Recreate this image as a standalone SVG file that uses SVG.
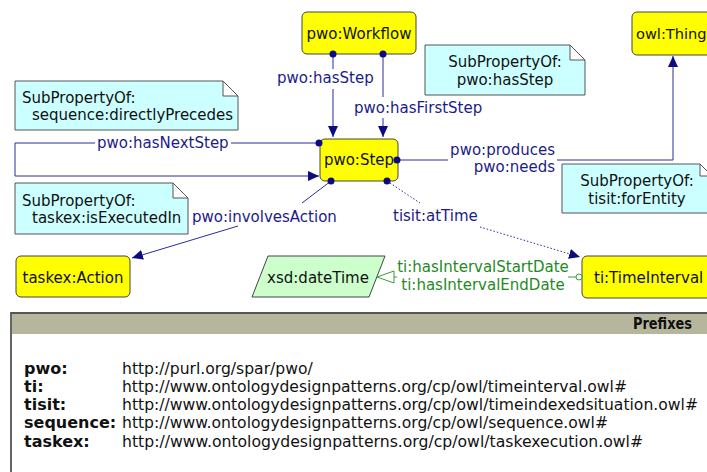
<svg xmlns="http://www.w3.org/2000/svg" width="707" height="472" viewBox="0 0 707 472">
<style>
text{font-family:"DejaVu Sans","Liberation Sans",sans-serif;font-size:15px}
.node rect{fill:#ffff00;stroke:#444;stroke-width:1}
.node text{fill:#111;text-anchor:middle}
.note path{fill:#ccffff;stroke:#555;stroke-width:1}
.note text{fill:#111}
.e{stroke:#2c2c9c;stroke-width:1;fill:none}
.dot{fill:#0c0c80}
.lbl{fill:#1c1c88}
.g{stroke:#3a9a3a;stroke-width:1;fill:none}
.glbl{fill:#1f8a1f;text-anchor:middle}
.pk{font-weight:bold;font-size:16px;fill:#111}
.pu{font-size:15.6px;fill:#111}
</style>
<defs>
<marker id="arr" markerUnits="userSpaceOnUse" markerWidth="12" markerHeight="10" refX="11" refY="5" orient="auto">
<path d="M0,0 L11,5 L0,10 z" fill="#0c0c80"/>
</marker>
</defs>

<g id="workflow" class="node"><rect x="302" y="12" width="114" height="42" rx="5"/><text x="359" y="39">pwo:Workflow</text></g>
<g id="thing" class="node"><rect x="632" y="12" width="90" height="43" rx="5"/><text x="636" y="39" style="text-anchor:start;font-size:14.6px">owl:Thing</text></g>
<g id="step" class="node"><rect x="320" y="139" width="78" height="42" rx="5"/><text x="359" y="165">pwo:Step</text></g>
<g id="action" class="node"><rect x="16" y="256" width="114" height="41" rx="5"/><text x="73" y="283">taskex:Action</text></g>
<g id="timeinterval" class="node"><rect x="582" y="256" width="134" height="42" rx="5"/><text x="594" y="283" style="text-anchor:start">ti:TimeInterval</text></g>
<g id="datetime"><polygon points="268,256 385,256 369,297 252,297" fill="#ccffcc" stroke="#444"/><text x="318" y="283" fill="#111" text-anchor="middle">xsd:dateTime</text></g>

<g id="note1" class="note"><path d="M15,81 H223 L238,96 V130 H15 Z M223,81 V96 H238"/><text x="22" y="103">SubPropertyOf:</text><text x="32" y="120">sequence:directlyPrecedes</text></g>
<g id="note2" class="note"><path d="M15,183 H173 L188,198 V234 H15 Z M173,183 V198 H188"/><text x="22" y="206">SubPropertyOf:</text><text x="32" y="223">taskex:isExecutedIn</text></g>
<g id="note3" class="note"><path d="M425,45 H570 L585,60 V95 H425 Z M570,45 V60 H585"/><text x="505" y="67" text-anchor="middle">SubPropertyOf:</text><text x="505" y="85" text-anchor="middle">pwo:hasStep</text></g>
<g id="note4" class="note"><path d="M562,164 H700 L712,176 V213 H562 Z M700,164 V176 H712"/><text x="637" y="186" text-anchor="middle">SubPropertyOf:</text><text x="637" y="204" text-anchor="middle">tisit:forEntity</text></g>

<g id="connectors">
<path class="e" d="M333,54 V69 M333,89 V137" marker-end="url(#arr)"/>
<circle class="dot" cx="333" cy="54" r="3.5"/>
<text class="lbl" x="277" y="83">pwo:hasStep</text>
<path class="e" d="M383,54 V97 M383,118 V137" marker-end="url(#arr)"/>
<circle class="dot" cx="383" cy="54" r="3.5"/>
<text class="lbl" x="354" y="113">pwo:hasFirstStep</text>
<path class="e" d="M319,143 H231 M95,143 H15 V176 H319" marker-end="url(#arr)"/>
<circle class="dot" cx="319" cy="143" r="3.5"/>
<text class="lbl" x="97" y="148">pwo:hasNextStep</text>
<path class="e" d="M397,160 H448 M557,160 H673 V56" marker-end="url(#arr)"/>
<circle class="dot" cx="397" cy="160" r="3.5"/>
<text class="lbl" x="555" y="155" text-anchor="end">pwo:produces</text>
<text class="lbl" x="555" y="172" text-anchor="end">pwo:needs</text>
<path class="e" d="M331,181 L302,203 M238,226 L132,258" marker-end="url(#arr)"/>
<circle class="dot" cx="331" cy="181" r="3.5"/>
<text class="lbl" x="192" y="222">pwo:involvesAction</text>
<path class="e" d="M387,181 L420,203 M480,227 L580,257" stroke-dasharray="1.5,2" marker-end="url(#arr)"/>
<circle class="dot" cx="387" cy="181" r="3.5"/>
<text class="lbl" x="393" y="221">tisit:atTime</text>
<path class="g" d="M576,277 H568 M397,277 H394"/>
<circle cx="579" cy="277" r="3" fill="#fff" stroke="#3a9a3a"/>
<polygon points="377,277 394,271 394,283" fill="#fff" stroke="#3a9a3a"/>
<text class="glbl" x="483" y="272">ti:hasIntervalStartDate</text>
<text class="glbl" x="483" y="290">ti:hasIntervalEndDate</text>
</g>

<g id="prefixes">
<rect x="11" y="313" width="710" height="170" fill="#fff" stroke="#666" stroke-width="2"/>
<rect x="12" y="314" width="708" height="20" fill="#b6b69d"/>
<line x1="11" y1="313" x2="707" y2="313" stroke="#555" stroke-width="2"/>
<text x="692" y="329" text-anchor="end" font-weight="bold" fill="#111" textLength="59" lengthAdjust="spacingAndGlyphs">Prefixes</text>
<text class="pk" x="24" y="374">pwo:</text><text class="pu" x="122" y="374">http://purl.org/spar/pwo/</text>
<text class="pk" x="24" y="392">ti:</text><text class="pu" x="122" y="392" textLength="505" lengthAdjust="spacingAndGlyphs">http://www.ontologydesignpatterns.org/cp/owl/timeinterval.owl#</text>
<text class="pk" x="24" y="410">tisit:</text><text class="pu" x="122" y="410" textLength="576" lengthAdjust="spacingAndGlyphs">http://www.ontologydesignpatterns.org/cp/owl/timeindexedsituation.owl#</text>
<text class="pk" x="24" y="428">sequence:</text><text class="pu" x="122" y="428" textLength="486" lengthAdjust="spacingAndGlyphs">http://www.ontologydesignpatterns.org/cp/owl/sequence.owl#</text>
<text class="pk" x="24" y="447">taskex:</text><text class="pu" x="122" y="447" textLength="521" lengthAdjust="spacingAndGlyphs">http://www.ontologydesignpatterns.org/cp/owl/taskexecution.owl#</text>
</g>
</svg>
